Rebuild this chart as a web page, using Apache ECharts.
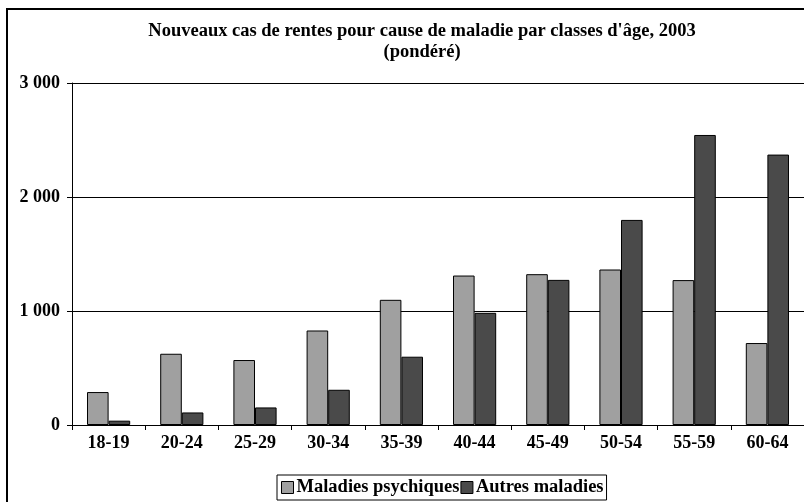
<!DOCTYPE html>
<html><head><meta charset="utf-8">
<script src="https://cdn.jsdelivr.net/npm/echarts@6/dist/echarts.min.js"></script>
<style>html,body{margin:0;padding:0;background:#fff}#c{width:804px;height:502px}</style>
</head><body><div id="c"></div>
<script>
const categories = ['18-19','20-24','25-29','30-34','35-39','40-44','45-49','50-54','55-59','60-64'];
const psychiques = [289, 625, 570, 829, 1098, 1311, 1323, 1364, 1271, 719];
const autres = [38, 110, 154, 309, 599, 984, 1273, 1799, 2544, 2372];
const yTicks = [0, 1000, 2000, 3000];
const seriesNames = ['Maladies psychiques', 'Autres maladies'];

const F = '"Liberation Serif", "Times New Roman", serif';
const chart = echarts.init(document.getElementById('c'), null, {renderer:'canvas'});
chart.setOption({
  animation: false,
  backgroundColor: '#fff',
  title: {
    text: 'Nouveaux cas de rentes pour cause de maladie par classes d\'âge, 2003\n(pondéré)',
    left: 417, top: 16, textAlign: 'center',
    textStyle: {fontFamily: F, fontWeight: 'bold', fontSize: 18.5, lineHeight: 21, color: '#000'}
  },
  graphic: [{type:'rect', shape:{x:7, y:9, width:820, height:520}, style:{fill:'none', stroke:'#000', lineWidth:2}, silent:true}],
  legend: {
    left: 277, top: 475, itemGap: 1, itemWidth: 12, itemHeight: 12,
    padding: [3, 3, 3, 4], borderColor: '#000', borderWidth: 1,
    icon: 'rect',
    itemStyle: {borderColor: '#000', borderWidth: 1},
    textStyle: {fontFamily: F, fontWeight: 'bold', fontSize: 18.5, color: '#000', padding:[0,0,0,-2]},
    data: seriesNames
  },
  grid: {left: 72, right: 0, top: 83, bottom: 77, containLabel: false},
  xAxis: {
    type: 'category', data: categories,
    axisLine: {lineStyle: {color: '#000', width: 1}},
    axisTick: {show: true, length: 5, lineStyle: {color: '#000'}},
    axisLabel: {fontFamily: F, fontWeight: 'bold', fontSize: 18, color: '#000', margin: 9}
  },
  yAxis: {
    type: 'value', min: yTicks[0], max: yTicks[yTicks.length-1], interval: 1000,
    axisLine: {show: true, lineStyle: {color: '#000'}},
    axisTick: {show: true, length: 5, lineStyle: {color: '#000'}},
    splitLine: {lineStyle: {color: '#000', width: 1}},
    axisLabel: {fontFamily: F, fontWeight: 'bold', fontSize: 18, color: '#000', margin: 12,
      formatter: v => String(v).replace(/\B(?=(\d{3})+(?!\d))/g, ' ')}
  },
  series: [
    {name: seriesNames[0], type: 'bar', data: psychiques, barGap: '0%', barCategoryGap: '41%',
      itemStyle: {color: '#a0a0a0', borderColor: '#000', borderWidth: 1}},
    {name: seriesNames[1], type: 'bar', data: autres,
      itemStyle: {color: '#4a4a4a', borderColor: '#000', borderWidth: 1}}
  ]
});
</script></body></html>
